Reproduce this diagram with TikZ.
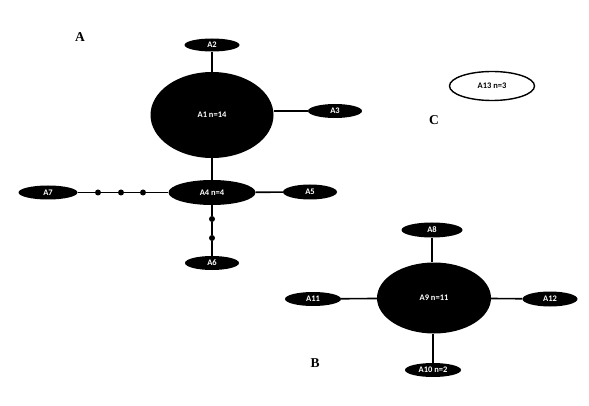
\documentclass[tikz,border=0pt]{standalone}
\usepackage{fontspec}
\setmainfont{Liberation Serif}
\newfontfamily\hapfont{Carlito}
\usetikzlibrary{positioning, shapes.geometric}

\begin{document}
\begin{tikzpicture}[x=1pt, y=-1pt,
        every node/.style={font=\hapfont\bfseries\fontsize{8.5}{9}\selectfont},
        hap/.style={ellipse, fill=black, text=white, inner sep=0pt},
        lone/.style={ellipse, draw=black, line width=1.4pt, fill=white, inner sep=0pt},
        mv/.style={circle, fill=black, inner sep=0pt, minimum size=6pt},
        panel/.style={font=\rmfamily\bfseries\fontsize{13.5}{15}\selectfont},
        link/.style={line width=1.6pt}]

      \useasboundingbox (0,0) rectangle (589,406);

      % network A
      \node[hap, minimum width=123pt, minimum height=86pt] (A1) at (212,115) {A1 n=14};
      \node[hap, minimum width=55pt, minimum height=13pt] (A2) at (212,45) {A2};
      \node[hap, minimum width=54pt, minimum height=14pt] (A3) at (335,111) {A3};
      \node[hap, minimum width=87pt, minimum height=25pt] (A4) at (212,192.5) {A4 n=4};
      \node[hap, minimum width=54pt, minimum height=15pt] (A5) at (310,192) {A5};
      \node[hap, minimum width=54pt, minimum height=14pt] (A6) at (212,263) {A6};
      \node[hap, minimum width=59pt, minimum height=14pt] (A7) at (48,192.5) {A7};
      \node[mv] (m1) at (98,192.5) {};
      \node[mv] (m2) at (121,192.5) {};
      \node[mv] (m3) at (143,192.5) {};
      \node[mv] (m4) at (212,219) {};
      \node[mv] (m5) at (212,238) {};

      \draw[link] (A2) -- (A1);
      \draw[link] (A1.east |- A3) -- (A3);
      \draw[link] (A1) -- (A4);
      \draw[link] (A4) -- (A5);
      \draw[link] (A7) -- (m1) -- (m2) -- (m3) -- (A4);
      \draw[link] (A4) -- (m4) -- (m5) -- (A6);

      % network B
      \node[hap, minimum width=114pt, minimum height=71pt] (A9) at (434,298) {A9 n=11};
      \node[hap, minimum width=61pt, minimum height=15pt] (A8) at (432,230) {A8};
      \node[hap, minimum width=56pt, minimum height=14pt] (A10) at (433,370) {A10 n=2};
      \node[hap, minimum width=56pt, minimum height=14pt] (A11) at (313,299) {A11};
      \node[hap, minimum width=55pt, minimum height=15pt] (A12) at (550,299) {A12};

      \draw[link] (A8) -- (A8 |- A9.north);
      \draw[link] (A10) -- (A10 |- A9.south);
      \draw[link] (A11) -- (A9);
      \draw[link] (A9) -- (A12);

      % network C
      \node[lone, minimum width=85pt, minimum height=29pt] (A13) at (492,86) {A13 n=3};

      \node[panel] (labA) at (80,37) {A};
      \node[panel] (labB) at (315,363) {B};
      \node[panel] (labC) at (434,120) {C};
    \end{tikzpicture}
\end{document}
